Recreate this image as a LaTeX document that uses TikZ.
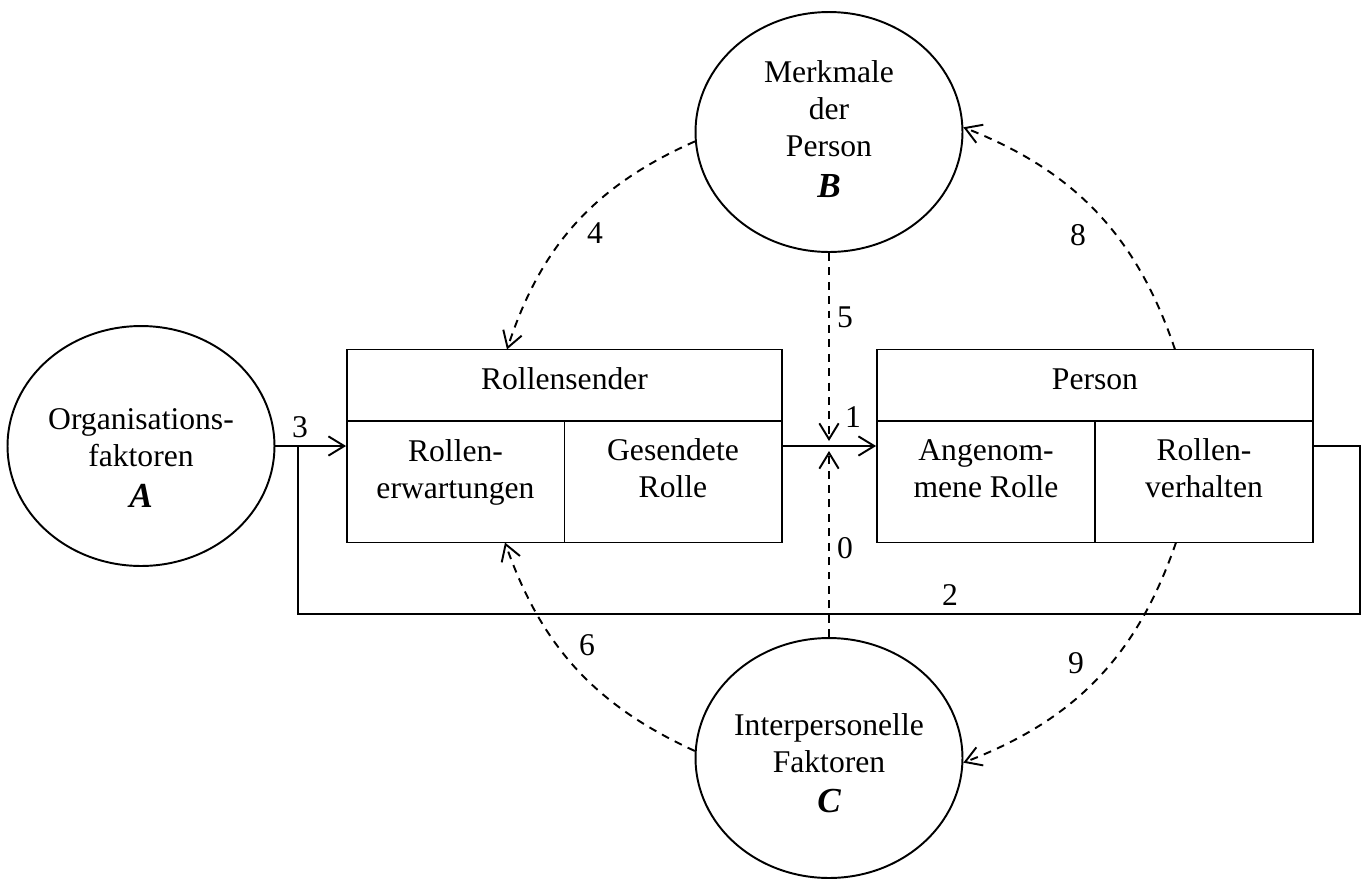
\documentclass[tikz,border=0pt]{standalone}
\usepackage{fontspec}
\setmainfont{Liberation Serif}
\usetikzlibrary{arrows.meta,shapes.geometric}

\newcommand{\factorletter}[1]{{\fontsize{20}{21}\selectfont\bfseries\itshape #1}}

\begin{document}
\begin{tikzpicture}[x=0.02cm,y=-0.02cm,
  line width=1.1pt,
  every node/.style={font=\fontsize{18}{21}\selectfont},
  blob/.style={draw, ellipse, minimum width=5.34cm, minimum height=4.8cm, inner sep=0pt},
  panel/.style={draw, rectangle, minimum height=3.86cm, inner sep=0pt},
  txt/.style={align=center, inner sep=0pt},
  num/.style={inner sep=0pt},
  arr/.style={-{Straight Barb[length=9pt,width=11pt]}},
  dsh/.style={dash pattern=on 4.5pt off 3.7pt},
]
\useasboundingbox (0,0) rectangle (1367,880);

% ellipses: organisation, person traits, interpersonal factors
\node[blob] (A) at (141,446) {};
\node[blob] (B) at (829,132) {};
\node[blob] (C) at (829,758) {};
\node[txt] (At) at (141,458) {Organisations-\\faktoren\\[2pt]\factorletter{A}};
\node[txt] (Bt) at (829,129) {Merkmale\\der\\Person\\[2pt]\factorletter{B}};
\node[txt] (Ct) at (829,763) {Interpersonelle\\Faktoren\\[2pt]\factorletter{C}};

% two panels with header row and two cells
\node[panel, minimum width=8.7cm] (RS) at (564.5,446) {};
\node[panel, minimum width=8.72cm] (P) at (1095,446) {};
\foreach \n in {RS,P}{
  \draw ([yshift=-1.44cm]\n.north west) -- ([yshift=-1.44cm]\n.north east);
  \draw ([yshift=-1.44cm]\n.north) -- (\n.south);
}
\node[txt] (RSh) at (564.5,379) {Rollensender};
\node[txt] (RSa) at (455.5,472) {Rollen-\\erwartungen};
\node[txt] (RSb) at (673,468.5) {Gesendete\\Rolle};
\node[txt] (Ph) at (1095,379) {Person};
\node[txt] (Pa) at (986,468.5) {Angenom-\\mene Rolle};
\node[txt] (Pb) at (1204,468.5) {Rollen-\\verhalten};

% solid flow
\coordinate (J) at (298,446);
\coordinate (LNE) at (1360,446);
\coordinate (LSE) at (1360,614);
\coordinate (LSW) at (298,614);
\draw[arr] (A.east) -- (RS.west);
\draw[arr] (RS.east) -- (P.west);
\draw (P.east) -- (LNE) -- (LSE) -- (LSW) -- (J);

% dashed influences
\coordinate (m5) at (829,441);
\coordinate (m0) at (829,451);
\coordinate (e4) at (507,349.5);
\coordinate (e8) at (1175,349.5);
\coordinate (e6) at (505,542.5);
\coordinate (e9) at (1176,542.5);
\draw[arr,dsh] (B.south) -- (m5);
\draw[arr,dsh] (C.north) -- (m0);
\draw[arr,dsh] (B.184) to[bend right=24] (e4);
\draw[arr,dsh] (e8) to[bend right=25] (B.2);
\draw[arr,dsh] (C.177) to[bend left=23] (e6);
\draw[arr,dsh] (e9) to[bend left=25] (C.358);

% numbers
\node[num] (n3) at (300,427) {3};
\node[num] (n1) at (853,417) {1};
\node[num] (n2) at (950,595) {2};
\node[num] (n5) at (845,317) {5};
\node[num] (n0) at (845,548) {0};
\node[num] (n4) at (595,233) {4};
\node[num] (n8) at (1078,235) {8};
\node[num] (n6) at (587,645) {6};
\node[num] (n9) at (1076,663) {9};
\end{tikzpicture}
\end{document}
